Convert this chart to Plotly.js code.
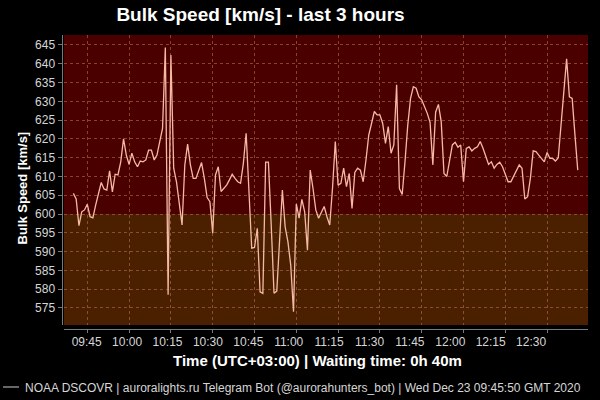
<!DOCTYPE html>
<html>
<head>
<meta charset="utf-8">
<script src="https://cdn.plot.ly/plotly-3.0.1.min.js"></script>
<style>html,body{margin:0;padding:0;background:#000;}#chart{width:600px;height:400px;}</style>
</head>
<body>
<div id="chart"></div>
<script>
// ---- data ----
var dateStr = "2020-12-23";
var times = [
"09:40","09:41","09:42","09:43","09:44","09:45","09:46","09:47","09:48","09:49",
"09:50","09:51","09:52","09:53","09:54","09:55","09:56","09:57","09:58","09:59",
"10:00","10:01","10:02","10:03","10:04","10:05","10:06","10:07","10:08","10:09",
"10:10","10:11","10:12","10:13","10:14","10:15","10:16","10:17","10:18","10:19",
"10:20","10:21","10:22","10:23","10:24","10:25","10:26","10:27","10:28","10:29",
"10:30","10:31","10:32","10:33","10:34","10:35","10:36","10:37","10:38","10:39",
"10:40","10:41","10:42","10:43","10:44","10:45","10:46","10:47","10:48","10:49",
"10:50","10:51","10:52","10:53","10:54","10:55","10:56","10:57","10:58","10:59",
"11:00","11:01","11:02","11:03","11:04","11:05","11:06","11:07","11:08","11:09",
"11:10","11:11","11:12","11:13","11:14","11:15","11:16","11:17","11:18","11:19",
"11:20","11:21","11:22","11:23","11:24","11:25","11:26","11:27","11:28","11:29",
"11:30","11:31","11:32","11:33","11:34","11:35","11:36","11:37","11:38","11:39",
"11:40","11:41","11:42","11:43","11:44","11:45","11:46","11:47","11:48","11:49",
"11:50","11:51","11:52","11:53","11:54","11:55","11:56","11:57","11:58","11:59",
"12:00","12:01","12:02","12:03","12:04","12:05","12:06","12:07","12:08","12:09",
"12:10","12:11","12:12","12:13","12:14","12:15","12:16","12:17","12:18","12:19",
"12:20","12:21","12:22","12:23","12:24","12:25","12:26","12:27","12:28","12:29",
"12:30","12:31","12:32","12:33","12:34","12:35","12:36","12:37","12:38","12:39",
"12:40","12:41"
];
var speed = [
605.5,604.0,596.9,600.6,601.1,602.6,599.3,599.0,602.4,605.2,
608.4,606.7,606.4,611.5,605.9,610.6,610.4,613.9,620.0,615.7,
613.2,616.2,613.9,612.6,614.1,613.9,614.4,617.0,617.0,614.4,
615.7,619.3,622.8,644.3,578.5,642.3,612.2,608.6,603.3,597.1,
613.1,618.6,613.1,609.5,609.5,611.7,613.7,609.5,604.4,603.3,
594.9,610.4,612.6,606.0,606.8,607.7,609.1,610.6,609.5,608.6,
608.2,613.5,621.5,606.0,590.9,591.1,596.2,579.3,578.9,613.8,
613.8,597.1,578.9,579.5,592.6,606.4,596.6,592.6,586.4,574.0,
602.7,598.9,603.9,600.6,590.4,611.7,606.8,601.1,598.9,600.6,
602.0,599.3,597.1,607.0,619.3,607.7,608.2,612.2,607.3,610.8,
601.5,611.1,612.2,611.7,608.6,614.4,621.0,624.1,627.3,626.4,
626.4,624.1,618.8,623.3,616.2,618.4,634.4,606.8,605.2,613.9,
623.7,630.8,633.9,633.5,631.2,630.4,628.6,626.8,624.4,613.1,
627.1,629.2,624.6,610.8,610.0,614.4,618.4,619.1,617.8,618.4,
608.6,617.5,617.9,616.8,617.5,617.9,619.3,617.5,615.5,613.2,
613.9,612.2,613.2,613.8,612.6,610.8,608.6,608.6,610.0,611.5,
613.1,612.2,604.0,604.6,609.5,616.8,616.6,615.7,614.8,613.9,
616.4,614.8,614.8,614.1,615.0,623.7,633.5,641.3,631.2,630.8,
621.0,611.7
];
var tickLabels = ["09:45","10:00","10:15","10:30","10:45","11:00","11:15","11:30","11:45","12:00","12:15","12:30"];
var threshold = 600;
var titleText = "Bulk Speed [km/s] - last 3 hours";
var xTitleText = "Time (UTC+03:00) | Waiting time: 0h 40m";
var yTitleText = "Bulk Speed [km/s]";
var footerText = "NOAA DSCOVR | auroralights.ru Telegram Bot (@aurorahunters_bot) | Wed Dec 23 09:45:50 GMT 2020";

// ---- layout helpers ----
var W = 600, H = 400;
var mL = 60, mR = 12, mT = 35, mB = 71;
var pw = W - mL - mR, ph = H - mT - mB;
function px(x){ return (x - mL) / pw; }
function py(y){ return (H - mB - y) / ph; }

var yRange = [570.47, 647.66];
var xs = times.map(function(t){ return dateStr + " " + t; });

// x scale: 15 minutes of data = 41.8 px, 09:45 sits at x=87.3 px
var base = Date.UTC(2020, 11, 23, 9, 45);
var pxPerMin = 41.8 / 15;
function pxToMs(x){ return base + (x - 87.3) / pxPerMin * 60000; }
// the reference draws its time labels on a slightly tighter pitch than its grid
var labelVals = tickLabels.map(function(l, i){ return pxToMs(86.7 + 40.4 * i); });

var trace = {
  x: xs, y: speed, type: "scatter", mode: "lines",
  line: {color: "#f6b9a6", width: 1.3},
  hoverinfo: "skip", showlegend: false
};

var gridCol = "rgba(190,120,80,0.55)";
var tickFont = {family: "Liberation Sans, Arial, sans-serif", size: 12, color: "#d6d6d6"};

var layout = {
  width: W, height: H,
  margin: {l: mL, r: mR, t: mT, b: mB, pad: 0},
  paper_bgcolor: "#000", plot_bgcolor: "#000",
  showlegend: false,
  title: {
    text: "<b>" + titleText + "</b>",
    font: {family: "Liberation Sans, Arial, sans-serif", size: 19, color: "#ffffff"},
    xref: "container", yref: "container",
    x: 260.5 / W, xanchor: "center", y: 1 - 14.5 / H, yanchor: "middle"
  },
  xaxis: {
    type: "date",
    domain: [px(64), 1],
    anchor: "free", position: 0,
    range: [pxToMs(64), pxToMs(588)],
    tickmode: "array", tickvals: labelVals, ticktext: tickLabels,
    tickfont: tickFont, ticks: "", ticklabelstandoff: 2,
    showgrid: false,
    minor: {
      tick0: dateStr + " 09:45", dtick: 900000,
      showgrid: true, gridcolor: gridCol, gridwidth: 1, griddash: "3px,3px",
      ticks: "outside", ticklen: 3, tickcolor: "#7a7a7a", tickwidth: 1
    },
    zeroline: false,
    showline: true, linecolor: "#7a7a7a", linewidth: 1
  },
  yaxis: {
    domain: [py(325), 1],
    anchor: "free", position: px(61.5),
    range: yRange,
    tick0: 575, dtick: 5,
    tickfont: tickFont,
    showgrid: true, gridcolor: gridCol, gridwidth: 1, griddash: "3px,3px",
    zeroline: false,
    showline: true, linecolor: "#7a7a7a", linewidth: 1,
    ticks: "outside", ticklen: 4, tickcolor: "#7a7a7a", tickwidth: 1
  },
  shapes: [
    {type: "rect", xref: "x domain", yref: "y", x0: 0, x1: 1, y0: threshold, y1: yRange[1],
     fillcolor: "#4b0000", line: {width: 0}, layer: "below"},
    {type: "rect", xref: "x domain", yref: "y", x0: 0, x1: 1, y0: yRange[0], y1: threshold,
     fillcolor: "#4a2000", line: {width: 0}, layer: "below"},
    {type: "line", xref: "paper", yref: "paper", x0: px(3), x1: px(19), y0: py(387), y1: py(387),
     line: {color: "#cccccc", width: 1}}
  ],
  annotations: [
    {text: "<b>" + xTitleText + "</b>", xref: "paper", yref: "paper",
     x: px(317.5), y: py(360), xanchor: "center", yanchor: "middle", showarrow: false,
     font: {family: "Liberation Sans, Arial, sans-serif", size: 15, color: "#ffffff"}},
    {text: "<b>" + yTitleText + "</b>", xref: "paper", yref: "paper",
     x: px(21.5), y: py(188), xanchor: "center", yanchor: "middle", showarrow: false, textangle: -90,
     font: {family: "Liberation Sans, Arial, sans-serif", size: 13, color: "#ffffff"}},
    {text: footerText, xref: "paper", yref: "paper",
     x: px(23), y: py(388), xanchor: "left", yanchor: "middle", showarrow: false,
     font: {family: "Liberation Sans, Arial, sans-serif", size: 12, color: "#d6d6d6"}}
  ]
};

Plotly.newPlot("chart", [trace], layout, {displayModeBar: false, staticPlot: true});
</script>
</body>
</html>
